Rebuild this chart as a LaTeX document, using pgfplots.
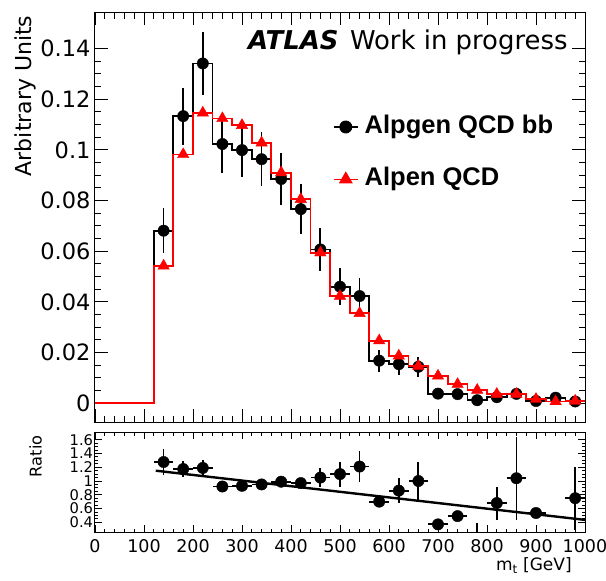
\documentclass[border=0pt]{standalone}
\usepackage{fontspec}
\setmainfont{DejaVu Sans}
\newfontfamily\legfont{Liberation Sans}
\usepackage{pgfplots}
\usepackage{pgfplotstable}
\pgfplotsset{compat=1.18}

% histogram contents per bin (low edge), Alpgen QCD bb with error, Alpen QCD
\pgfplotstableread{
lo   bb      bberr   qcd
0    0       0       0
120  0.0681  0.0088  0.0542
160  0.1133  0.0113  0.0982
200  0.1341  0.0124  0.1146
240  0.1023  0.0113  0.1124
280  0.0999  0.0107  0.1097
320  0.0963  0.0106  0.1028
360  0.0885  0.0102  0.0910
400  0.0766  0.0098  0.0805
440  0.0607  0.0085  0.0594
480  0.0460  0.0073  0.0423
520  0.0423  0.0070  0.0355
560  0.0168  0.0044  0.0247
600  0.0154  0.0042  0.0187
640  0.0144  0.0039  0.0147
680  0.0038  0.0016  0.0108
720  0.0036  0.0014  0.0075
760  0.0012  0.0010  0.0052
800  0.0024  0.0014  0.0036
840  0.0037  0.0018  0.0036
880  0.0009  0.0008  0.0016
920  0.0022  0.0012  0.0007
960  0.0007  0.0008  0.0009
1000 0.0007  0       0.0009
}\histdata

\pgfplotstableread{
x    r      err
140  1.276  0.19
180  1.174  0.12
220  1.19   0.12
260  0.92   0.04
300  0.93   0.04
340  0.95   0.05
380  0.99   0.07
420  0.97   0.07
460  1.05   0.14
500  1.10   0.18
540  1.21   0.22
580  0.70   0.05
620  0.86   0.18
660  1.00   0.27
700  0.37   0.06
740  0.49   0.04
780  0.24   0.15
820  0.68   0.24
860  1.04   0.60
900  0.535  0.04
980  0.75   0.46
}\ratiodata

\begin{document}
\begin{tikzpicture}
\begin{axis}[
  name=top,
  at={(0pt,0pt)}, anchor=north west,
  scale only axis, width=490pt, height=410pt,
  xmin=0, xmax=1000, ymin=-0.0074, ymax=0.1544,
  xtick={0,100,...,1000}, xticklabels={},
  minor x tick num=4,
  ytick={0,0.02,0.04,0.06,0.08,0.1,0.12,0.14},
  yticklabels={0,0.02,0.04,0.06,0.08,0.1,0.12,0.14},
  scaled y ticks=false,
  minor y tick num=3,
  major tick length=13pt, minor tick length=6.5pt,
  tick style={line width=0.9pt, black},
  axis line style={line width=1pt},
  tick label style={font=\fontsize{22.5}{26}\selectfont},
  yticklabel style={inner sep=0pt, xshift=-4.3pt},
  ylabel={Arbitrary Units},
  ylabel style={font=\fontsize{22}{26}\selectfont, at={(axis description cs:-0.1429,1)}, anchor=east},
  clip marker paths=true,
  legend cell align=left,
  legend style={at={(rel axis cs:0.4857,0.7505)}, anchor=north west, draw=none, fill=none,
    inner sep=0pt, row sep=27.4pt,
    font=\legfont\bfseries\fontsize{25.5}{30}\selectfont,
    nodes={inner sep=0pt, text height=19pt, text depth=6pt}},
  legend image code/.code={
    \draw[mark repeat=2, mark phase=2, #1] plot coordinates {(0pt,0pt) (11.85pt,0pt) (23.7pt,0pt)};
    \path (30pt,0pt);
  },
]
% Alpgen QCD bb histogram
\addplot[const plot, black, line width=1.8pt, forget plot] table[x=lo, y=bb] {\histdata};
\addplot[only marks, black, mark=*, mark size=5.7pt, forget plot,
  restrict x to domain=100:990,
  error bars/.cd, y dir=both, y explicit, error mark=none,
  error bar style={line width=1.8pt, black}]
  table[x expr=\thisrow{lo}+20, y=bb, y error=bberr] {\histdata};
% Alpen QCD histogram
\addplot[const plot, red, line width=1.8pt, forget plot] table[x=lo, y=qcd] {\histdata};
\addplot[only marks, red, mark=triangle*, mark size=6.6pt, forget plot,
  restrict x to domain=100:990]
  table[x expr=\thisrow{lo}+20, y=qcd] {\histdata};
\addlegendimage{black, line width=1.5pt, mark=*, mark size=5.7pt}
\addlegendentry{Alpgen QCD bb}
\addlegendimage{red, line width=1.5pt, mark=triangle*, mark size=6.6pt}
\addlegendentry{Alpen QCD}
\node[anchor=base west, inner sep=0pt, font=\fontsize{25.9}{30}\selectfont]
  at (rel axis cs:0.312,0.909) {{\bfseries\itshape ATLAS}\hspace{11.5pt}Work in progress};
\end{axis}

\begin{axis}[
  name=ratio,
  at={(0pt,-420pt)}, anchor=north west,
  scale only axis, width=490pt, height=100pt,
  xmin=0, xmax=1000, ymin=0.259, ymax=1.712,
  xtick={0,100,...,1000},
  xticklabels={0,100,200,300,400,500,600,700,800,900,1000},
  minor x tick num=4,
  ytick={0.4,0.6,0.8,1,1.2,1.4,1.6},
  yticklabels={0.4,0.6,0.8,1,1.2,1.4,1.6},
  minor y tick num=3,
  major tick length=7pt, minor tick length=3.5pt,
  tick style={line width=0.9pt, black},
  axis line style={line width=1pt},
  xticklabel style={font=\fontsize{17.5}{20}\selectfont, inner sep=0pt, yshift=-7.5pt},
  yticklabel style={font=\fontsize{14.7}{17}\selectfont, inner sep=0pt, xshift=-1.7pt},
  xlabel={m\textsubscript{t} [GeV]},
  xlabel style={font=\fontsize{17}{20}\selectfont, at={(axis description cs:0.98,0)}, anchor=base east, yshift=-38.5pt},
  ylabel={Ratio},
  ylabel style={font=\fontsize{16.2}{19}\selectfont, at={(axis description cs:-0.121,1)}, anchor=east},
  clip marker paths=true,
]
\addplot[black, line width=2.4pt] coordinates {(124,1.15) (1000,0.435)};
\addplot[only marks, black, mark=*, mark size=5.7pt,
  error bars/.cd, y dir=both, y explicit, x dir=both, x fixed=20, error mark=none,
  error bar style={line width=1.8pt, black}]
  table[x=x, y=r, y error=err] {\ratiodata};
\end{axis}
\pgfresetboundingbox
\path[use as bounding box] (-95pt,12pt) rectangle (511pt,-569pt);
\end{tikzpicture}
\end{document}
